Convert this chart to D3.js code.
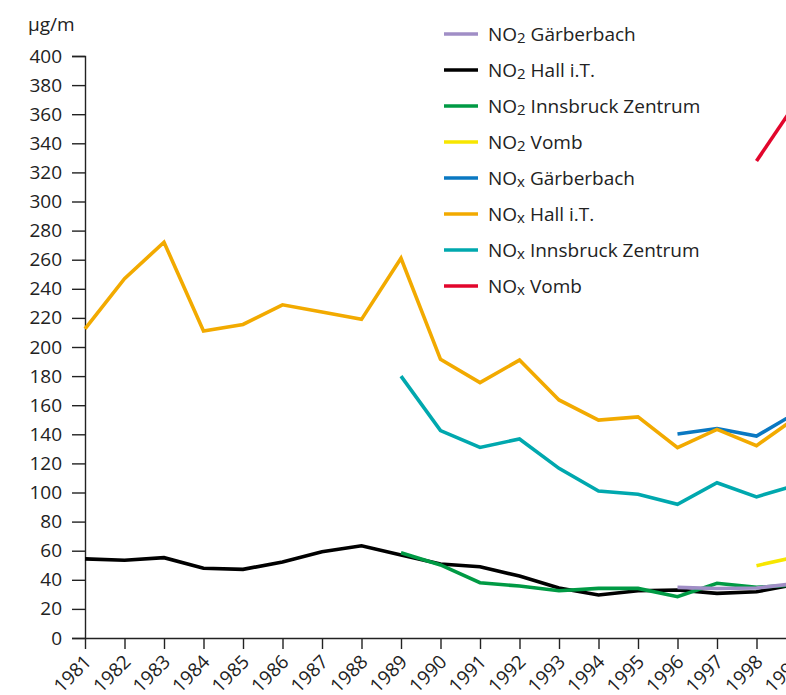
<!DOCTYPE html>
<html>
<head>
<meta charset="utf-8">
<script src="https://cdn.jsdelivr.net/npm/d3@7"></script>
<style>
  html, body { margin: 0; padding: 0; background: #fff; overflow: hidden; }
  text { font-family: "Open Sans", "Liberation Sans", Arial, sans-serif; fill: #222; }
</style>
</head>
<body>
<svg id="chart" width="860" height="695"></svg>
<script>
// years on the x axis
var years = [1981, 1982, 1983, 1984, 1985, 1986, 1987, 1988, 1989, 1990,
             1991, 1992, 1993, 1994, 1995, 1996, 1997, 1998, 1999];
var yTicks = d3.range(0, 401, 20);

// series values, null where a station has no data
var no2Gaerberbach = [null, null, null, null, null, null, null, null, null, null,
                      null, null, null, null, null, 34.8, 34.0, 34.4, 37.5];
var no2Hall = [54.4, 53.4, 55.2, 47.9, 47.2, 52.2, 59.3, 63.4, 57.0, 50.9,
               49.0, 42.6, 34.4, 29.6, 32.5, 33.0, 30.7, 31.8, 37.0];
var no2Innsbruck = [null, null, null, null, null, null, null, null, 58.6, 50.2,
                    38.0, 35.7, 32.5, 34.1, 34.1, 28.4, 37.6, 34.8, 36.5];
var no2Vomb = [null, null, null, null, null, null, null, null, null, null,
               null, null, null, null, null, null, null, 49.7, 55.8];
var noxGaerberbach = [null, null, null, null, null, null, null, null, null, null,
                      null, null, null, null, null, 140.2, 144.0, 138.8, 154.7];
var noxHall = [212.4, 247, 272, 211, 215.5, 229, 224, 219, 261, 191.5,
               175.5, 191, 163.6, 149.8, 152, 130.8, 143.4, 132.2, 151.5];
var noxInnsbruck = [null, null, null, null, null, null, null, null, 180, 142.5,
                    131, 136.8, 116.6, 101, 98.8, 91.9, 106.7, 97, 105];
var noxVomb = [null, null, null, null, null, null, null, null, null, null,
               null, null, null, null, null, null, null, 327.8, 368];

// legend order: [prefix, subscript, station, values, colour]
var series = [
  ["NO", "2", "Gärberbach", no2Gaerberbach, "#a08ec6"],
  ["NO", "2", "Hall i.T.", no2Hall, "#000000"],
  ["NO", "2", "Innsbruck Zentrum", no2Innsbruck, "#009a44"],
  ["NO", "2", "Vomb", no2Vomb, "#f7e600"],
  ["NO", "x", "Gärberbach", noxGaerberbach, "#0a78c2"],
  ["NO", "x", "Hall i.T.", noxHall, "#f2aa00"],
  ["NO", "x", "Innsbruck Zentrum", noxInnsbruck, "#00a8ae"],
  ["NO", "x", "Vomb", noxVomb, "#e2062c"]
];
// stacking of the lines (later = on top)
var drawOrder = [1, 2, 3, 0, 4, 5, 6, 7];

var svg = d3.select("#chart");

var x = d3.scaleLinear().domain([1981, 1999]).range([85, 796]);
var y = d3.scaleLinear().domain([0, 400]).range([638, 56]);

// y axis
var yAxis = svg.append("g")
  .attr("transform", "translate(85,0)")
  .call(d3.axisLeft(y).tickValues(yTicks).tickSize(13).tickPadding(10));
yAxis.select(".domain").attr("stroke", "#222").attr("stroke-width", 1.4);
yAxis.selectAll(".tick line").attr("stroke", "#222").attr("stroke-width", 1.4);
yAxis.selectAll(".tick text")
  .style("font-size", "19px")
  .style("font-family", "'Open Sans', 'Liberation Sans', Arial, sans-serif")
  .attr("fill", "#222");

// x axis
var xAxis = svg.append("g")
  .attr("transform", "translate(0,638)")
  .call(d3.axisBottom(x).tickValues(years).tickFormat(d3.format("d")).tickSize(11).tickSizeOuter(0));
xAxis.select(".domain").attr("stroke", "#222").attr("stroke-width", 1.4);
xAxis.selectAll(".tick line").attr("stroke", "#222").attr("stroke-width", 1.4);
xAxis.selectAll(".tick text")
  .style("font-size", "19px")
  .style("font-family", "'Open Sans', 'Liberation Sans', Arial, sans-serif")
  .attr("fill", "#222")
  .attr("text-anchor", "end")
  .attr("dy", null)
  .attr("y", 0)
  .attr("transform", "translate(7,25) rotate(-45)");

// unit label
svg.append("text")
  .attr("x", 28)
  .attr("y", 31)
  .style("font-size", "19px")
  .text("µg/m");

// lines
var line = d3.line()
  .defined(function(d){ return d != null; })
  .x(function(d, i){ return x(years[i]); })
  .y(function(d){ return y(d); });

drawOrder.forEach(function(k){
  svg.append("path")
    .datum(series[k][3])
    .attr("fill", "none")
    .attr("stroke", series[k][4])
    .attr("stroke-width", 3.6)
    .attr("stroke-linejoin", "miter")
    .attr("d", line);
});

// legend
var legend = svg.append("g").attr("transform", "translate(444,34)");
series.forEach(function(s, i){
  var row = legend.append("g").attr("transform", "translate(0," + (i * 36) + ")");
  row.append("line")
    .attr("x1", 0).attr("x2", 34)
    .attr("y1", 0).attr("y2", 0)
    .attr("stroke", s[4])
    .attr("stroke-width", 3.6);
  var t = row.append("text")
    .attr("x", 44)
    .attr("y", 7)
    .style("font-size", "19px");
  t.append("tspan").text(s[0]);
  t.append("tspan").text(s[1]).style("font-size", "15px").attr("dy", 2);
  t.append("tspan").text(" " + s[2]).attr("dy", -2);
});
</script>
</body>
</html>
